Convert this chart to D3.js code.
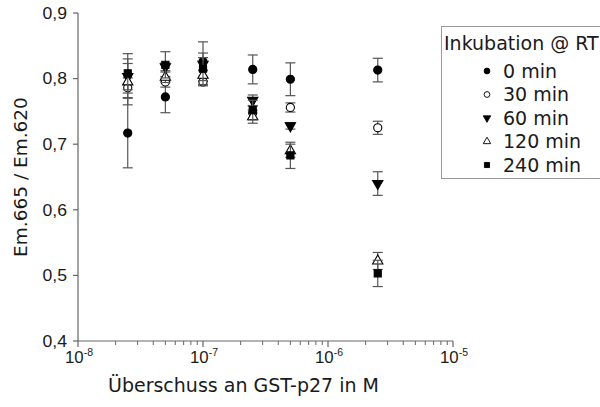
<!DOCTYPE html>
<html>
<head>
<meta charset="utf-8">
<script src="https://cdn.jsdelivr.net/npm/d3@7"></script>
<style>
  html, body { margin: 0; padding: 0; background: #fff; }
  svg { display: block; }
</style>
</head>
<body>
<svg id="chart" width="600" height="407"></svg>
<script>
// Concentrations of GST-p27 excess (M)
const concentrations = [2.5e-8, 5e-8, 1e-7, 2.5e-7, 5e-7, 2.5e-6];

// Incubation times at room temperature
const seriesNames = ["0 min", "30 min", "60 min", "120 min", "240 min"];

// Em.665 / Em.620 ratio, one array per incubation time
const values0   = [0.717, 0.772, 0.826, 0.814, 0.799, 0.813];
const values30  = [0.786, 0.795, 0.795, 0.748, 0.756, 0.725];
const values60  = [0.803, 0.818, 0.822, 0.767, 0.728, 0.640];
const values120 = [0.795, 0.802, 0.805, 0.742, 0.690, 0.522];
const values240 = [0.808, 0.821, 0.815, 0.752, 0.683, 0.503];

// Standard deviations
const errors0   = [0.053, 0.024, 0.030, 0.022, 0.025, 0.018];
const errors30  = [0.015, 0.008, 0.006, 0.010, 0.007, 0.010];
const errors60  = [0.020, 0.006, 0.010, 0.008, 0.005, 0.018];
const errors120 = [0.035, 0.008, 0.008, 0.010, 0.010, 0.013];
const errors240 = [0.030, 0.020, 0.024, 0.015, 0.020, 0.020];

const yTicks = [0.4, 0.5, 0.6, 0.7, 0.8, 0.9];
const xTickExponents = [-8, -7, -6, -5];

const allValues = [values0, values30, values60, values120, values240];
const allErrors = [errors0, errors30, errors60, errors120, errors240];

const svg = d3.select("#chart");
const plotLeft = 78, plotRight = 453, plotTop = 13, plotBottom = 341;

const x = d3.scaleLog().domain([1e-8, 1e-5]).range([plotLeft, plotRight]);
const y = d3.scaleLinear().domain([0.4, 0.9]).range([plotBottom, plotTop]);

const axisColor = "#666";
const textColor = "#1a1a1a";
const tickFont = "Liberation Sans, Arial, sans-serif";
const titleFont = "DejaVu Sans, sans-serif";

// y axis
const yAxis = svg.append("g").attr("transform", `translate(${plotLeft},0)`);
yAxis.append("line").attr("x1", 0).attr("x2", 0).attr("y1", y(0.9)).attr("y2", y(0.4))
  .attr("stroke", axisColor).attr("stroke-width", 1.2);
yTicks.forEach(t => {
  yAxis.append("line").attr("x1", -5).attr("x2", 0).attr("y1", y(t)).attr("y2", y(t))
    .attr("stroke", axisColor).attr("stroke-width", 1.2);
  yAxis.append("text")
    .attr("transform", `translate(-11,${y(t)}) scale(1.1,1)`)
    .attr("dy", "0.36em")
    .attr("text-anchor", "end")
    .attr("font-family", tickFont).attr("font-size", 16)
    .attr("fill", textColor)
    .text(d3.format(".1f")(t).replace(".", ","));
});

// x axis (log, with minor ticks)
const xAxis = svg.append("g").attr("transform", `translate(0,${plotBottom})`);
xAxis.append("line").attr("x1", x(1e-8)).attr("x2", x(1e-5)).attr("y1", 0).attr("y2", 0)
  .attr("stroke", axisColor).attr("stroke-width", 1.2);
const minorTicks = [];
for (let e = -8; e < -5; e++) {
  for (let m = 2; m <= 9; m++) minorTicks.push(m * Math.pow(10, e));
}
minorTicks.forEach(t => {
  xAxis.append("line").attr("x1", x(t)).attr("x2", x(t)).attr("y1", 0).attr("y2", 4)
    .attr("stroke", axisColor).attr("stroke-width", 1);
});
xTickExponents.forEach(e => {
  const v = Math.pow(10, e);
  xAxis.append("line").attr("x1", x(v)).attr("x2", x(v)).attr("y1", 0).attr("y2", 6)
    .attr("stroke", axisColor).attr("stroke-width", 1.2);
  const lbl = xAxis.append("text")
    .attr("transform", `translate(${x(v) + 1},22) scale(1.05,1)`)
    .attr("text-anchor", "middle")
    .attr("font-family", tickFont).attr("font-size", 16)
    .attr("fill", textColor);
  lbl.append("tspan").text("10");
  lbl.append("tspan").attr("font-size", 10).attr("dy", -7).text(String(e));
});

// axis titles
svg.append("text")
  .attr("transform", `translate(27,${(plotTop + plotBottom) / 2}) rotate(-90)`)
  .attr("text-anchor", "middle")
  .attr("font-family", titleFont).attr("font-size", 18.5)
  .attr("fill", textColor)
  .text("Em.665 / Em.620");

svg.append("text")
  .attr("x", 108).attr("y", 392)
  .attr("text-anchor", "start")
  .attr("font-family", titleFont).attr("font-size", 19)
  .attr("fill", textColor)
  .text("Überschuss an GST-p27 in M");

// marker shapes per series
const markers = [
  { type: d3.symbolCircle, fill: "#000" },
  { type: d3.symbolCircle, fill: "#fff" },
  { type: d3.symbolTriangle, fill: "#000", rotate: 180 },
  { type: d3.symbolTriangle, fill: "#fff" },
  { type: d3.symbolSquare, fill: "#000" }
];

const plot = svg.append("g");
const capHalf = 5;

allValues.forEach((vals, si) => {
  const errs = allErrors[si];
  const g = plot.append("g");
  vals.forEach((v, i) => {
    const cx = x(concentrations[i]);
    const e = errs[i];
    const y1 = y(v + e), y2 = y(v - e);
    g.append("line").attr("x1", cx).attr("x2", cx).attr("y1", y1).attr("y2", y2)
      .attr("stroke", "#555").attr("stroke-width", 1.2);
    [y1, y2].forEach(yy => {
      g.append("line").attr("x1", cx - capHalf).attr("x2", cx + capHalf).attr("y1", yy).attr("y2", yy)
        .attr("stroke", "#555").attr("stroke-width", 1.2);
    });
  });
  const m = markers[si];
  vals.forEach((v, i) => {
    const cx = x(concentrations[i]);
    const size = m.type === d3.symbolCircle ? 52 : (m.type === d3.symbolSquare ? 50 : 46);
    g.append("path")
      .attr("d", d3.symbol().type(m.type).size(size)())
      .attr("transform", `translate(${cx},${y(v)}) rotate(${m.rotate || 0})`)
      .attr("fill", m.fill).attr("stroke", "#000").attr("stroke-width", 1.1);
  });
});

// legend
const legend = svg.append("g");
legend.append("rect").attr("x", 441.5).attr("y", 26.5).attr("width", 170).attr("height", 152)
  .attr("fill", "#fff").attr("stroke", "#999").attr("stroke-width", 1);
legend.append("text").attr("x", 444).attr("y", 50)
  .attr("font-family", titleFont).attr("font-size", 19)
  .attr("fill", textColor).text("Inkubation @ RT");
seriesNames.forEach((name, si) => {
  const ly = 71 + si * 23.5;
  const m = markers[si];
  const size = m.type === d3.symbolTriangle ? 24 : 26;
  legend.append("path")
    .attr("d", d3.symbol().type(m.type).size(size)())
    .attr("transform", `translate(487,${ly}) rotate(${m.rotate || 0})`)
    .attr("fill", m.fill).attr("stroke", "#000").attr("stroke-width", 0.9);
  legend.append("text").attr("x", 503).attr("y", ly).attr("dy", "0.36em")
    .attr("font-family", titleFont).attr("font-size", 19)
    .attr("fill", textColor).text(name);
});
</script>
</body>
</html>
